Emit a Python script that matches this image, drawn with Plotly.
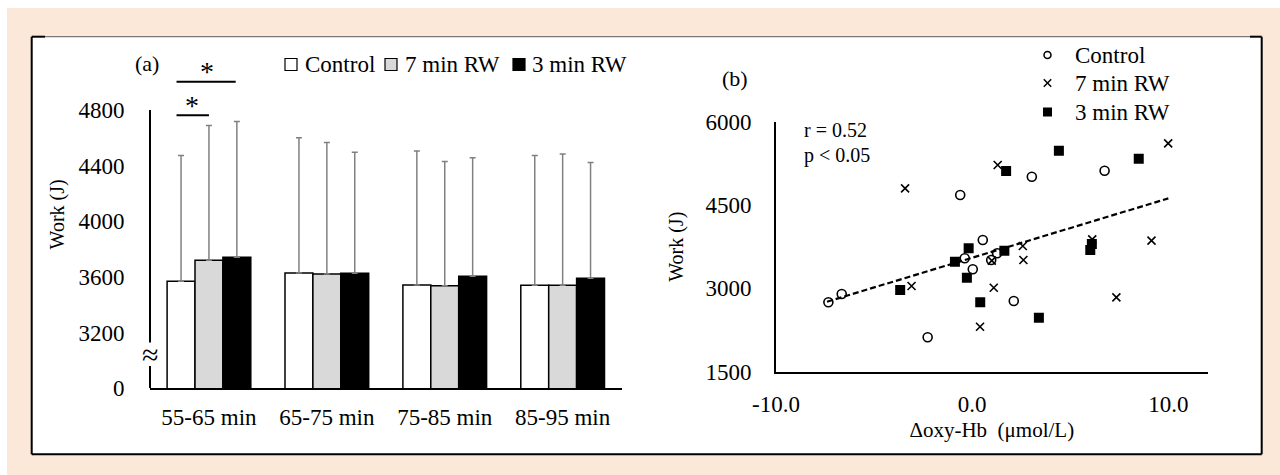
import plotly.graph_objects as go

# ---------------- data ----------------
periods = ["55-65 min", "65-75 min", "75-85 min", "85-95 min"]
groups = ["Control", "7 min RW", "3 min RW"]
work_control = [3570, 3628, 3542, 3540]
work_7rw = [3721, 3621, 3537, 3540]
work_3rw = [3741, 3626, 3606, 3590]
sd_top_control = [4473, 4600, 4506, 4473]
sd_top_7rw = [4689, 4567, 4430, 4483]
sd_top_3rw = [4717, 4497, 4456, 4423]
ytick_vals_a = [2800, 3200, 3600, 4000, 4400, 4800]
ytick_text_a = ["0", "3200", "3600", "4000", "4400", "4800"]
# significance brackets: (x start, x end, y, star x, star y)
sig_brackets = [(-0.275, 0.0, 4763, -0.14, 4835), (-0.275, 0.227, 5002, -0.02, 5078)]

ctrl_x = [-7.33, -6.65, -2.27, -0.61, -0.38, 0.03, 0.54, 0.97, 1.27, 2.12, 3.04, 6.75]
ctrl_y = [2749, 2899, 2119, 4681, 3541, 3343, 3871, 3510, 3631, 2773, 5010, 5118]
rw7_x = [-3.42, -3.09, 0.40, 1.10, 1.00, 1.30, 2.58, 2.61, 6.12, 7.35, 9.14, 9.99]
rw7_y = [4801, 3043, 2310, 3012, 3500, 5221, 3763, 3511, 3883, 2839, 3859, 5611]
rw3_x = [-3.67, -0.88, -0.18, -0.27, 0.41, 1.64, 1.73, 3.40, 4.42, 6.02, 6.10, 8.49]
rw3_y = [2971, 3480, 3721, 3192, 2749, 3679, 5113, 2473, 5479, 3691, 3800, 5335]
trend_x = [-7.4, 10.0]
trend_y = [2760, 4620]
xtick_vals_b = [-10, 0, 10]
xtick_text_b = ["-10.0", "0.0", "10.0"]
ytick_vals_b = [1500, 3000, 4500, 6000]

# ---------------- layout helpers ----------------
W, H = 1280, 475
FONT = "Liberation Serif"


def px(x):
    return x / W


def py(y):
    return 1 - y / H


fig = go.Figure()

bar_colors = ["white", "#D9D9D9", "black"]
for name, vals, tops, col in zip(groups, [work_control, work_7rw, work_3rw],
                                 [sd_top_control, sd_top_7rw, sd_top_3rw], bar_colors):
    fig.add_trace(go.Bar(
        x=periods, y=vals, name=name, showlegend=False,
        marker=dict(color=col, line=dict(color="black", width=1.5)),
        error_y=dict(type="data", symmetric=False,
                     array=[t - v for t, v in zip(tops, vals)],
                     arrayminus=[0] * len(vals),
                     color="#808080", thickness=1.5, width=3),
        xaxis="x", yaxis="y",
    ))

fig.add_trace(go.Scatter(x=trend_x, y=trend_y, mode="lines", showlegend=False,
                         line=dict(color="black", width=2.2, dash="6px,3px"),
                         xaxis="x2", yaxis="y2"))
fig.add_trace(go.Scatter(x=ctrl_x, y=ctrl_y, mode="markers", name="Control", showlegend=False,
                         marker=dict(symbol="circle-open", size=9, color="black",
                                     line=dict(width=1.6, color="black")),
                         xaxis="x2", yaxis="y2"))
fig.add_trace(go.Scatter(x=rw7_x, y=rw7_y, mode="markers", name="7 min RW", showlegend=False,
                         marker=dict(symbol="x-thin", size=8, color="black",
                                     line=dict(width=1.6, color="black")),
                         xaxis="x2", yaxis="y2"))
fig.add_trace(go.Scatter(x=rw3_x, y=rw3_y, mode="markers", name="3 min RW", showlegend=False,
                         marker=dict(symbol="square", size=10, color="black"),
                         xaxis="x2", yaxis="y2"))

shapes = []
# page background
shapes.append(dict(type="rect", xref="paper", yref="paper", x0=px(7), x1=px(1280),
                   y0=py(475), y1=py(8), fillcolor="#FBE8D9", line=dict(width=0), layer="below"))
# white frame
shapes.append(dict(type="rect", xref="paper", yref="paper", x0=px(31.7), x1=px(1261.7),
                   y0=py(454.3), y1=py(36.7), fillcolor="white", line=dict(width=0), layer="below"))
frame_lines = [
    (31.7, 36.7, 31.7, 454.3, "black", 2),
    (1261.7, 36.7, 1261.7, 454.3, "black", 2),
    (31.7, 454.3, 1261.7, 454.3, "black", 2),
    (45, 36.7, 1250, 36.7, "#7A7A7A", 1.2),
    (31.7, 36.7, 45, 36.7, "black", 2),
    (1250, 36.7, 1261.7, 36.7, "black", 2),
]
for x0, y0, x1, y1, c, w in frame_lines:
    shapes.append(dict(type="line", xref="paper", yref="paper", x0=px(x0), x1=px(x1),
                       y0=py(y0), y1=py(y1), line=dict(color=c, width=w)))

# broken y axis for panel (a)
shapes.append(dict(type="line", xref="paper", yref="y", x0=px(150), x1=px(150),
                   y0=ytick_vals_a[-1], y1=3130, line=dict(color="black", width=2)))
shapes.append(dict(type="line", xref="paper", yref="y", x0=px(150), x1=px(150),
                   y0=2960, y1=ytick_vals_a[0], line=dict(color="black", width=2)))

# significance brackets
for xs, xe, yv, sx, sy in sig_brackets:
    shapes.append(dict(type="line", xref="x", yref="y", x0=xs, x1=xe, y0=yv, y1=yv,
                       line=dict(color="black", width=2)))

# custom legend squares for panel (a)
leg_sq = [(285, "white"), (385, "#D9D9D9"), (513, "black")]
for x0, c in leg_sq:
    shapes.append(dict(type="rect", xref="paper", yref="paper", x0=px(x0), x1=px(x0 + 12),
                       y0=py(70.5), y1=py(58.5), fillcolor=c, line=dict(color="black", width=1.2)))

# custom legend keys for panel (b)
kx, rows_b = 1047.5, [55, 83, 112]
shapes.append(dict(type="circle", xref="paper", yref="paper", x0=px(kx - 3.5), x1=px(kx + 3.5),
                   y0=py(rows_b[0] + 3.5), y1=py(rows_b[0] - 3.5), line=dict(color="black", width=1.5)))
for dx in (-3.7, 3.7):
    shapes.append(dict(type="line", xref="paper", yref="paper", x0=px(kx - 3.7), x1=px(kx + 3.7),
                       y0=py(rows_b[1] - dx), y1=py(rows_b[1] + dx), line=dict(color="black", width=1.5)))
shapes.append(dict(type="rect", xref="paper", yref="paper", x0=px(kx - 4.5), x1=px(kx + 4.5),
                   y0=py(rows_b[2] + 4.5), y1=py(rows_b[2] - 4.5), fillcolor="black", line=dict(width=0)))

annotations = []
for xs, xe, yv, sx, sy in sig_brackets:
    annotations.append(dict(text="*", xref="x", yref="y", x=sx, y=sy, showarrow=False,
                            font=dict(size=28, family=FONT, color="black")))
leg_txt = [(303, groups[0]), (403, groups[1]), (530, groups[2])]
for x0, t in leg_txt:
    annotations.append(dict(text=t, xref="paper", yref="paper", x=px(x0), y=py(64),
                            xanchor="left", yanchor="middle", showarrow=False,
                            font=dict(size=23, family=FONT, color="black")))
for yy, t in zip(rows_b, groups):
    annotations.append(dict(text=t, xref="paper", yref="paper", x=px(1073), y=py(yy),
                            xanchor="left", yanchor="middle", showarrow=False,
                            font=dict(size=23, family=FONT, color="black")))
annotations += [
    dict(text="(a)", xref="paper", yref="paper", x=px(146.7), y=py(63), showarrow=False,
         xanchor="center", yanchor="middle", font=dict(size=22, family=FONT, color="black")),
    dict(text="(b)", xref="paper", yref="paper", x=px(735), y=py(79), showarrow=False,
         xanchor="center", yanchor="middle", font=dict(size=22, family=FONT, color="black")),
    dict(text="≈", xref="paper", yref="y", x=px(150), y=3044, showarrow=False,
         xanchor="center", yanchor="middle", font=dict(size=30, family=FONT, color="black")),
    dict(text="r = 0.52", xref="paper", yref="paper", x=px(802), y=py(130), showarrow=False,
         xanchor="left", yanchor="middle", font=dict(size=20, family=FONT, color="black")),
    dict(text="p < 0.05", xref="paper", yref="paper", x=px(802), y=py(155), showarrow=False,
         xanchor="left", yanchor="middle", font=dict(size=20, family=FONT, color="black")),
]

axis_common = dict(showgrid=False, zeroline=False, linecolor="black", linewidth=2,
                   ticks="outside", tickcolor="rgba(0,0,0,0)", automargin=False,
                   tickfont=dict(size=23, family=FONT, color="black"))

fig.update_layout(
    width=W, height=H, autosize=False, showlegend=False,
    margin=dict(l=0, r=0, t=0, b=0, pad=0, autoexpand=False),
    paper_bgcolor="white", plot_bgcolor="rgba(0,0,0,0)",
    font=dict(family=FONT, color="black"),
    barmode="group", bargap=0.29, bargroupgap=0,
    shapes=shapes, annotations=annotations,
    xaxis=dict(domain=[px(150), px(621.6)], anchor="y", showline=True, ticklen=7,
               range=[-0.5, 3.5], type="category", **axis_common),
    yaxis=dict(domain=[py(388.3), py(40.4)], anchor="x", showline=False,
               range=[2800, 5300], tickvals=ytick_vals_a, ticktext=ytick_text_a, ticklen=20,
               title=dict(text="Work (J)", font=dict(size=20, family=FONT), standoff=8),
               **axis_common),
    xaxis2=dict(domain=[px(776), px(1207.6)], anchor="y2", showline=True, ticklen=11,
                range=[-10, 12], tickvals=xtick_vals_b, ticktext=xtick_text_b,
                title=dict(text="Δoxy-Hb\u00a0\u00a0(μmol/L)", font=dict(size=21, family=FONT), standoff=6),
                **axis_common),
    yaxis2=dict(domain=[py(371.7), py(121.7)], anchor="x2", showline=True, ticklen=18,
                range=[1500, 6000], tickvals=ytick_vals_b,
                title=dict(text="Work (J)", font=dict(size=20, family=FONT), standoff=16),
                **axis_common),
)

fig.write_html("out.html", config={"displayModeBar": False},
               post_script="document.body.style.margin='0px';")
